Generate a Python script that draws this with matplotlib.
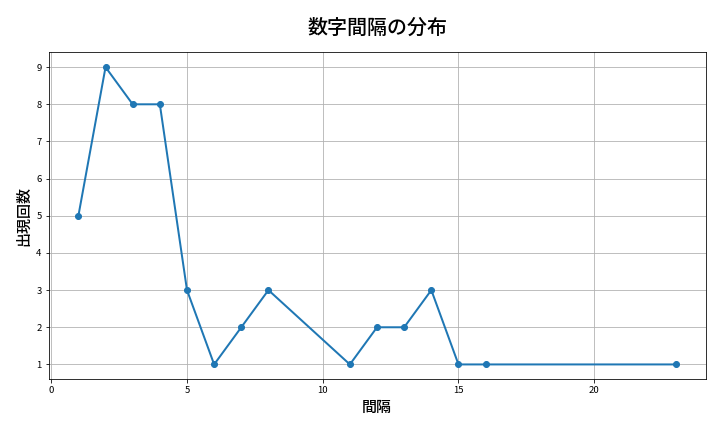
import matplotlib
matplotlib.use("Agg")
import matplotlib.pyplot as plt

plt.rcParams['font.family'] = ['Noto Sans CJK JP', 'DejaVu Sans']

gaps = [1, 2, 3, 4, 5, 6, 7, 8, 11, 12, 13, 14, 15, 16, 23]
counts = [5, 9, 8, 8, 3, 1, 2, 3, 1, 2, 2, 3, 1, 1, 1]

fig = plt.figure(figsize=(10, 6), dpi=72)
ax = fig.add_axes([0.0674, 0.122, 0.9125, 0.757])
ax.plot(gaps, counts, marker='o', linewidth=2, markersize=6, color='#1f77b4')
ax.set_title('数字間隔の分布', fontsize=20, fontweight='medium', pad=18)
ax.set_xlabel('間隔', fontsize=15, fontweight='medium')
ax.set_ylabel('出現回数', fontsize=15, fontweight='medium')
ax.tick_params(labelsize=9.5)
ax.grid(True)
fig.savefig('out.png', dpi=72)
